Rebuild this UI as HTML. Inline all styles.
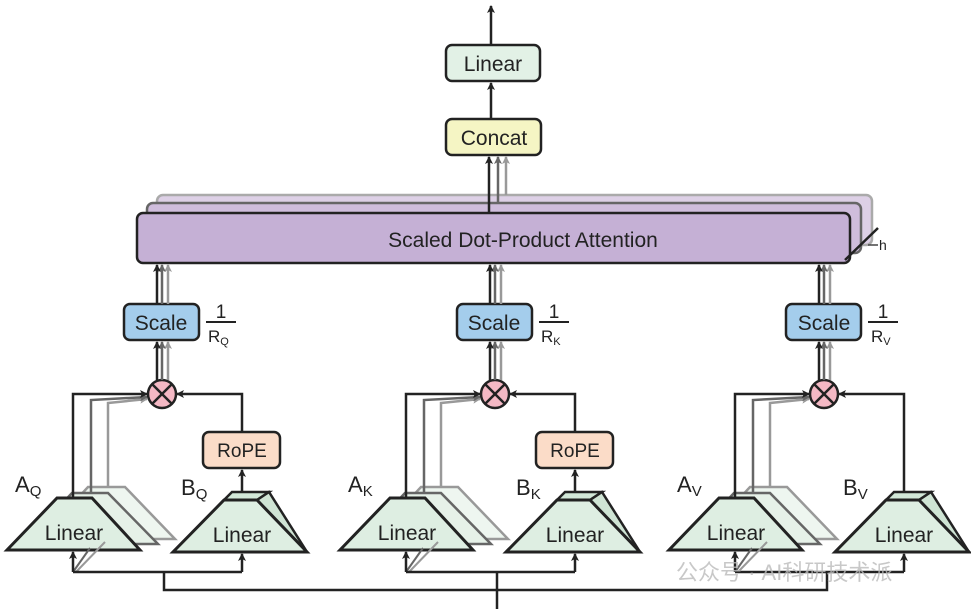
<!DOCTYPE html>
<html><head><meta charset="utf-8"><style>
html,body{margin:0;padding:0;background:#fff;}
svg{display:block;font-family:"Liberation Sans",Arial,sans-serif;}
</style></head><body>
<svg width="971" height="609" viewBox="0 0 971 609" xmlns="http://www.w3.org/2000/svg">
<defs>
<marker id="ab" markerWidth="8" markerHeight="8" refX="7" refY="4" orient="auto" markerUnits="userSpaceOnUse"><path d="M0,0 L8,4 L0,8 L2,4 z" fill="#222"/></marker>
<marker id="ag" markerWidth="8" markerHeight="8" refX="7" refY="4" orient="auto" markerUnits="userSpaceOnUse"><path d="M0,0 L8,4 L0,8 L2,4 z" fill="#666"/></marker>
<marker id="al" markerWidth="8" markerHeight="8" refX="7" refY="4" orient="auto" markerUnits="userSpaceOnUse"><path d="M0,0 L8,4 L0,8 L2,4 z" fill="#999"/></marker>
<g id="grp">
  <polygon points="40,539 175,539 125,487 88,487" fill="#eef6f0" stroke="#999" stroke-width="2.5"/>
  <polygon points="24,544 158,544 108,493 72,493" fill="#e6f1e8" stroke="#666" stroke-width="2.5"/>
  <polygon points="7,550 140,550 92,498 57,498" fill="#deeee2" stroke="#222" stroke-width="3"/>
  <polyline points="108,487 108,403 147,399" fill="none" stroke="#999" stroke-width="2.5" marker-end="url(#al)"/>
  <polyline points="91,493 91,400 147,397" fill="none" stroke="#666" stroke-width="2.5" marker-end="url(#ag)"/>
  <polyline points="73,498 73,394 147,394" fill="none" stroke="#222" stroke-width="2.5" marker-end="url(#ab)"/>
  <polygon points="224,500 257,500 269,492 232,492" fill="#d2e8d8" stroke="#222" stroke-width="2.5"/>
  <polygon points="257,500 269,492 307,552 300,552" fill="#cfe4d4" stroke="#222" stroke-width="2.5"/>
  <polygon points="173,552 307,552 257,500 224,500" fill="#deeee2" stroke="#222" stroke-width="3"/>
  <circle cx="162" cy="394" r="14" fill="#f4b8c4" stroke="#222" stroke-width="2.5"/>
  <line x1="152" y1="384" x2="172" y2="404" stroke="#222" stroke-width="2.5"/>
  <line x1="172" y1="384" x2="152" y2="404" stroke="#222" stroke-width="2.5"/>
  <line x1="168" y1="380" x2="168" y2="342" stroke="#999" stroke-width="2.5" marker-end="url(#al)"/>
  <line x1="162" y1="380" x2="162" y2="342" stroke="#666" stroke-width="2.5" marker-end="url(#ag)"/>
  <line x1="157" y1="380" x2="157" y2="342" stroke="#222" stroke-width="2.5" marker-end="url(#ab)"/>
  <rect x="124" y="304" width="75" height="36" rx="6" fill="#a4cdec" stroke="#222" stroke-width="2.5"/>
  <line x1="168" y1="304" x2="168" y2="265" stroke="#999" stroke-width="2.5" marker-end="url(#al)"/>
  <line x1="162" y1="304" x2="162" y2="265" stroke="#666" stroke-width="2.5" marker-end="url(#ag)"/>
  <line x1="157" y1="304" x2="157" y2="265" stroke="#222" stroke-width="2.5" marker-end="url(#ab)"/>
  <line x1="206" y1="322" x2="236" y2="322" stroke="#222" stroke-width="2"/>
  <line x1="73" y1="572" x2="90" y2="548" stroke="#666" stroke-width="2"/>
  <line x1="76" y1="572" x2="105" y2="542" stroke="#999" stroke-width="2"/>
  <line x1="73" y1="572" x2="73" y2="552" stroke="#222" stroke-width="2.5" marker-end="url(#ab)"/>
  <line x1="242" y1="572" x2="242" y2="554" stroke="#222" stroke-width="2.5" marker-end="url(#ab)"/>
  <line x1="73" y1="572" x2="242" y2="572" stroke="#222" stroke-width="2.5"/>
</g>
<g id="rope">
  <line x1="242" y1="492" x2="242" y2="470" stroke="#222" stroke-width="2.5" marker-end="url(#ab)"/>
  <rect x="203" y="432" width="77" height="36" rx="6" fill="#fbdcc8" stroke="#222" stroke-width="2.5"/>
  <polyline points="242,432 242,394 177,394" fill="none" stroke="#222" stroke-width="2.5" marker-end="url(#ab)"/>
</g>
</defs>

<line x1="491" y1="45" x2="491" y2="6" stroke="#222" stroke-width="2.5" marker-end="url(#ab)"/>
<rect x="446" y="45" width="94" height="36" rx="6" fill="#e2f1e6" stroke="#222" stroke-width="2.5"/>
<text x="493" y="71" font-size="21" text-anchor="middle" fill="#222">Linear</text>
<line x1="491" y1="119" x2="491" y2="83" stroke="#222" stroke-width="2.5" marker-end="url(#ab)"/>
<rect x="446" y="119" width="95" height="36" rx="6" fill="#f5f5c4" stroke="#222" stroke-width="2.5"/>
<text x="494" y="145" font-size="21" text-anchor="middle" fill="#222">Concat</text>

<rect x="157" y="195" width="715" height="50" rx="6" fill="#ddd0e6" stroke="#aaa" stroke-width="2.5"/>
<rect x="147" y="203" width="714" height="50" rx="6" fill="#cfbddc" stroke="#666" stroke-width="2.5"/>
<rect x="137" y="213" width="713" height="50" rx="6" fill="#c5b0d5" stroke="#222" stroke-width="2.5"/>
<text x="523" y="247" font-size="21" text-anchor="middle" fill="#222">Scaled Dot-Product Attention</text>
<line x1="506" y1="195" x2="506" y2="157" stroke="#999" stroke-width="2.5" marker-end="url(#al)"/>
<line x1="498" y1="203" x2="498" y2="157" stroke="#666" stroke-width="2.5" marker-end="url(#ag)"/>
<line x1="489" y1="213" x2="489" y2="157" stroke="#222" stroke-width="2.5" marker-end="url(#ab)"/>
<line x1="845" y1="260" x2="878" y2="228" stroke="#222" stroke-width="2.5"/>
<line x1="868" y1="245" x2="878" y2="245" stroke="#444" stroke-width="1.5"/>
<text x="879" y="250" font-size="14" fill="#222">h</text>

<use href="#grp"/>
<use href="#grp" transform="translate(333,0)"/>
<use href="#grp" transform="translate(662,0)"/>
<use href="#rope"/>
<use href="#rope" transform="translate(333,0)"/>
<polyline points="904,492 904,394 839,394" fill="none" stroke="#222" stroke-width="2.5" marker-end="url(#ab)"/>

<polyline points="164,572 164,590 827,590 827,572" fill="none" stroke="#222" stroke-width="2.5"/>
<line x1="497" y1="572" x2="497" y2="609" stroke="#222" stroke-width="2.5"/>

<g font-size="21" fill="#222" text-anchor="middle">
<text x="74" y="540">Linear</text><text x="242" y="542">Linear</text>
<text x="407" y="540">Linear</text><text x="575" y="542">Linear</text>
<text x="736" y="540">Linear</text><text x="904" y="542">Linear</text>
<text x="161" y="330">Scale</text><text x="494" y="330">Scale</text><text x="824" y="330">Scale</text>
<text x="242" y="457" font-size="19">RoPE</text><text x="575" y="457" font-size="19">RoPE</text>
</g>
<g font-size="19" fill="#222" text-anchor="middle">
<text x="221" y="318">1</text><text x="554" y="318">1</text><text x="883" y="318">1</text>
</g>
<g fill="#222" font-size="17">
<text x="208" y="342">R<tspan font-size="11" dy="3">Q</tspan></text>
<text x="541" y="342">R<tspan font-size="11" dy="3">K</tspan></text>
<text x="871" y="342">R<tspan font-size="11" dy="3">V</tspan></text>
</g>
<g fill="#222" font-size="22">
<text x="15" y="492">A<tspan font-size="15" dy="4">Q</tspan></text>
<text x="181" y="495">B<tspan font-size="15" dy="4">Q</tspan></text>
<text x="348" y="492">A<tspan font-size="15" dy="4">K</tspan></text>
<text x="516" y="495">B<tspan font-size="15" dy="4">K</tspan></text>
<text x="677" y="492">A<tspan font-size="15" dy="4">V</tspan></text>
<text x="843" y="495">B<tspan font-size="15" dy="4">V</tspan></text>
</g>
<text x="676" y="580" font-size="22" fill="#bbb" opacity="0.8" font-family="'Liberation Sans','Noto Sans CJK SC',sans-serif">公众号 · AI科研技术派</text>
</svg>
</body></html>
